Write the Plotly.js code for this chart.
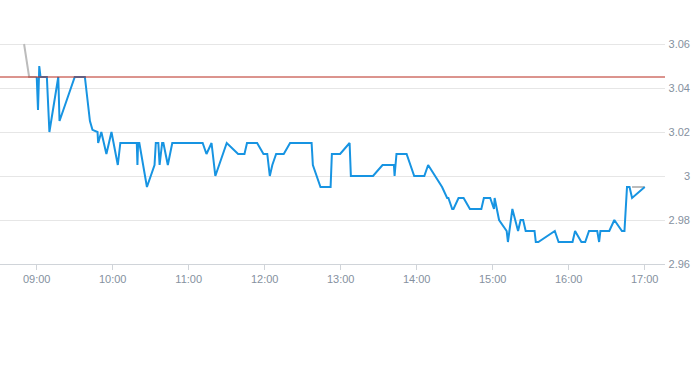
<!DOCTYPE html>
<html>
<head>
<meta charset="utf-8">
<script src="https://cdn.plot.ly/plotly-3.0.1.min.js"></script>
<style>html,body{margin:0;padding:0;background:#fff;}#chart{width:693px;height:365px;}</style>
</head>
<body>
<div id="chart"></div>
<script>
var day = "2024-01-02 ";
var priceTimes = ["09:00:00","09:01:00","09:02:00","09:03:00","09:08:00","09:10:00","09:17:00","09:18:00","09:30:00","09:38:00",
"09:40:00","09:42:00","09:44:00","09:48:00","09:48:30","09:51:00","09:55:00","09:59:00","10:04:00","10:06:00",
"10:19:00","10:19:30","10:20:00","10:21:00","10:27:00","10:33:00","10:34:00","10:36:00","10:37:00","10:39:00",
"10:40:00","10:43:30","10:47:00","11:11:00","11:14:00","11:18:00","11:21:00","11:30:00","11:39:00","11:44:00",
"11:46:00","11:54:00","11:59:00","12:02:00","12:04:00","12:06:00","12:09:00","12:15:00","12:20:00","12:37:00",
"12:38:00","12:44:00","12:52:00","12:53:00","12:59:30","13:07:00","13:08:00","13:25:30","13:33:00","13:42:00",
"13:42:30","13:44:00","13:52:00","13:58:00","14:06:00","14:09:00","14:20:00","14:24:00","14:25:00","14:28:00",
"14:29:00","14:33:00","14:37:00","14:42:00","14:51:00","14:53:00","14:58:00","15:01:00","15:01:30","15:05:00",
"15:11:00","15:12:00","15:15:30","15:20:00","15:22:00","15:24:00","15:26:00","15:33:00","15:34:00","15:36:00",
"15:49:00","15:52:00","16:03:00","16:05:00","16:10:00","16:13:00","16:16:00","16:22:30","16:24:00","16:25:00",
"16:32:00","16:36:00","16:42:00","16:44:00","16:46:00","16:48:00","16:50:00","17:00:00"];
var priceValues = [3.045,3.03,3.05,3.045,3.045,3.02,3.045,3.025,3.045,3.045,
3.035,3.025,3.021,3.02,3.015,3.02,3.01,3.02,3.005,3.015,
3.015,3.005,3.015,3.015,2.995,3.005,3.015,3.015,3.005,3.015,
3.015,3.005,3.015,3.015,3.01,3.015,3.0,3.015,3.01,3.01,
3.015,3.015,3.01,3.01,3.0,3.005,3.01,3.01,3.015,3.015,
3.005,2.995,2.995,3.01,3.01,3.015,3.0,3.0,3.005,3.005,
3.0,3.01,3.01,3.0,3.0,3.005,2.995,2.99,2.99,2.985,
2.985,2.99,2.99,2.985,2.985,2.99,2.99,2.985,2.99,2.98,
2.975,2.97,2.985,2.975,2.98,2.98,2.975,2.975,2.97,2.97,
2.975,2.97,2.97,2.975,2.97,2.97,2.975,2.975,2.97,2.975,
2.975,2.98,2.975,2.975,2.995,2.995,2.99,2.995];
var preTimes = ["08:50:00","08:54:00","09:00:00"];
var preValues = [3.06,3.045,3.045];
var postTimes = ["16:50:00","17:00:00"];
var postValues = [2.995,2.995];
var prevClose = 3.045;
var yTickVals = [2.96,2.98,3.00,3.02,3.04,3.06];
var yTickText = ["2.96","2.98","3","3.02","3.04","3.06"];
var xRange = ["08:31:00","17:16:00"];

function withDay(arr){ return arr.map(function(t){ return day + t; }); }

var labelColor = "#8591a0";
var traces = [
  {x: withDay(preTimes), y: preValues, type: "scatter", mode: "lines",
   line: {color: "#bcbcbc", width: 2}, xaxis: "x", yaxis: "y"},
  {x: withDay(postTimes), y: postValues, type: "scatter", mode: "lines",
   line: {color: "#bcbcbc", width: 2}, xaxis: "x", yaxis: "y"},
  {x: withDay(xRange), y: [prevClose, prevClose], type: "scatter", mode: "lines",
   line: {color: "#b8281c", width: 1}, xaxis: "x", yaxis: "y2"},
  {x: withDay(priceTimes), y: priceValues, type: "scatter", mode: "lines",
   line: {color: "#1794e2", width: 2}, xaxis: "x", yaxis: "y"}
];

var yr = [2.96, 3.08];
var layout = {
  width: 693, height: 365,
  margin: {l: 0, r: 0, t: 0, b: 101, pad: 0},
  paper_bgcolor: "#fff", plot_bgcolor: "#fff",
  showlegend: false, hovermode: false,
  font: {family: "Liberation Sans, Arial, sans-serif", size: 11, color: labelColor},
  xaxis: {
    type: "date", domain: [0, 665/693], range: withDay(xRange),
    tick0: day + "09:00:00", dtick: 3600000, tickformat: "%H:%M",
    showgrid: false, zeroline: false,
    showline: true, linecolor: "#d0d4d9", linewidth: 1,
    ticks: "outside", ticklen: 5, tickcolor: "#d0d4d9", tickwidth: 1,
    tickfont: {size: 11, color: labelColor}
  },
  yaxis: {
    range: yr, anchor: "x", side: "right",
    tickmode: "array", tickvals: yTickVals, ticktext: yTickText,
    showticklabels: false, ticks: "",
    showgrid: true, gridcolor: "#e6e6e6", gridwidth: 1,
    zeroline: false, showline: false
  },
  yaxis2: {
    range: yr, overlaying: "y", anchor: "free", position: 1, side: "right",
    tickmode: "array", tickvals: yTickVals, ticktext: yTickText,
    ticklabelposition: "inside", ticklabeloverflow: "allow", ticks: "",
    showgrid: false, zeroline: false, showline: false,
    tickfont: {size: 11, color: labelColor}
  }
};

Plotly.newPlot("chart", traces, layout, {staticPlot: true, displayModeBar: false});
</script>
</body>
</html>
